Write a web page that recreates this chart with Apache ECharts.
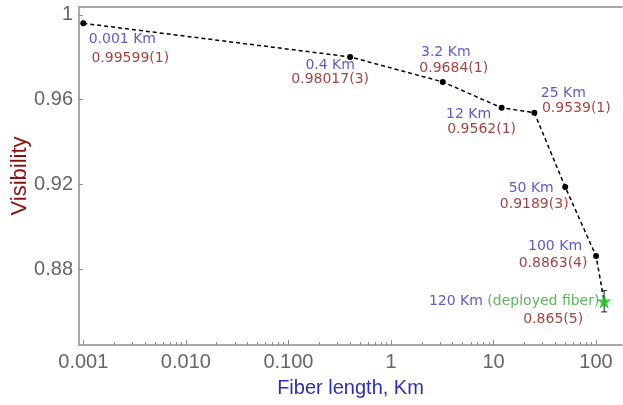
<!DOCTYPE html>
<html>
<head>
<meta charset="utf-8">
<script src="https://cdn.jsdelivr.net/npm/echarts@6/dist/echarts.min.js"></script>
<style>
  html, body { margin: 0; padding: 0; background: #fff; }
  #main { width: 623px; height: 405px; }
</style>
</head>
<body>
<div id="main"></div>
<script>
// fiber length (Km) and measured visibility
const lengthsKm = [0.001, 0.4, 3.2, 12, 25, 50, 100, 120]
const visibility = [0.99599, 0.98017, 0.9684, 0.9562, 0.9539, 0.9189, 0.8863, 0.865]
const uncertainty = [1, 3, 1, 1, 1, 3, 4, 5] // last digit uncertainty, as printed
const deployedIndex = 7 // 120 Km is the deployed fiber
const deployedError = 0.005

// axis ticks
const xTickValues = [0.001, 0.01, 0.1, 1, 10, 100]
const xTickLabels = ['0.001', '0.010', '0.100', '1', '10', '100']
const yTickValues = [0.88, 0.92, 0.96, 1]

// label offsets (px from the point) for the length and value texts
const lengthLabelOffsets = [[39, 16], [-20, 8], [3, -30], [-33, 7], [29, -19], [-34, 1], [-41, -10], [-90, 0]]
const valueLabelOffsets = [[47, 35], [-20, 22], [11, -14], [-20, 22], [42, -4], [-31, 17], [-43, 7], [-51, 18]]

const xMin = -3.042
const xMax = 2.253
const log = Math.log10

// minor ticks 2..9 inside every decade
const minorTicks = []
for (let d = -3; d <= 2; d++) {
    for (let k = 2; k <= 9; k++) {
        const v = log(k) + d
        if (v > xMin && v < xMax) minorTicks.push(v)
    }
}

const points = lengthsKm.map((x, i) => [log(x), visibility[i]])

const chart = echarts.init(document.getElementById('main'))
const axisColor = '#8c8c8c'
const labelFont = 'DejaVu Sans'
const blue = '#3232bc'
const darkRed = '#8a1010'
const option = {
    animation: false,
    grid: { left: 79, right: 1, top: 7, bottom: 60, outerBoundsMode: 'none', containLabel: false },
    xAxis: [
        {
            type: 'value',
            min: xMin,
            max: xMax,
            name: 'Fiber length, Km',
            nameLocation: 'middle',
            nameGap: 33,
            nameMoveOverlap: false,
            nameTextStyle: { color: '#2e2eb4', fontSize: 20, fontFamily: 'Liberation Sans' },
            axisLine: { show: true, onZero: false, lineStyle: { color: axisColor, width: 1.5 } },
            axisTick: { show: true, inside: true, length: 5, lineStyle: { color: axisColor }, customValues: xTickValues.map(log) },
            axisLabel: {
                customValues: xTickValues.map(log),
                color: '#666',
                fontSize: 20,
                fontFamily: 'Liberation Sans',
                margin: 7,
                formatter: function (v) {
                    const i = xTickValues.findIndex(t => Math.abs(log(t) - v) < 1e-6)
                    return i >= 0 ? xTickLabels[i] : ''
                },
            },
            splitLine: { show: false },
        },
        {
            type: 'value',
            min: xMin,
            max: xMax,
            position: 'bottom',
            axisLine: { show: false, onZero: false },
            axisTick: { show: true, inside: true, length: 3, lineStyle: { color: axisColor }, customValues: minorTicks },
            axisLabel: { show: false },
            splitLine: { show: false },
        },
        {
            type: 'value',
            min: xMin,
            max: xMax,
            position: 'top',
            axisLine: { show: true, onZero: false, lineStyle: { color: axisColor, width: 1.5 } },
            axisTick: { show: false },
            axisLabel: { show: false },
            splitLine: { show: false },
        },
    ],
    yAxis: {
        type: 'value',
        min: 0.8444,
        max: 1.0037,
        name: 'Visibility',
        nameLocation: 'middle',
        nameGap: 48,
        nameMoveOverlap: false,
        nameTextStyle: { color: '#8b0f0f', fontSize: 22, fontFamily: 'Liberation Sans' },
        axisLine: { show: true, onZero: false, lineStyle: { color: axisColor, width: 1.5 } },
        axisTick: { show: true, inside: true, length: 4, lineStyle: { color: axisColor }, customValues: yTickValues },
        axisLabel: {
            customValues: yTickValues,
            color: '#666',
            fontSize: 20,
            fontFamily: 'Liberation Sans',
            margin: 6,
            formatter: v => (v === 1 ? '1' : v.toFixed(2)),
        },
        splitLine: { show: false },
    },
    series: [
        {
            type: 'line',
            data: points.map((p, i) => ({
                value: p,
                symbolSize: i === deployedIndex ? 0 : 6,
            })),
            symbol: 'circle',
            itemStyle: { color: '#000' },
            lineStyle: { color: '#000', width: 1.5, type: [4, 3] },
            z: 3,
        },
        {
            type: 'custom',
            data: [[log(lengthsKm[deployedIndex]), visibility[deployedIndex], deployedError]],
            renderItem: function (params, api) {
                const x = api.value(0)
                const y = api.value(1)
                const e = api.value(2)
                const top = api.coord([x, y + e])
                const bot = api.coord([x, y - e])
                const st = { stroke: '#222', lineWidth: 1 }
                return {
                    type: 'group',
                    children: [
                        { type: 'line', shape: { x1: top[0], y1: top[1], x2: bot[0], y2: bot[1] }, style: st },
                        { type: 'line', shape: { x1: top[0] - 3, y1: top[1], x2: top[0] + 3, y2: top[1] }, style: st },
                        { type: 'line', shape: { x1: bot[0] - 3, y1: bot[1], x2: bot[0] + 3, y2: bot[1] }, style: st },
                    ],
                }
            },
            z: 4,
        },
        {
            type: 'scatter',
            data: [points[deployedIndex]],
            symbol: 'path://M0,-10 L2.35,-3.24 9.51,-3.09 3.8,1.24 5.88,8.09 0,4 -5.88,8.09 -3.8,1.24 -9.51,-3.09 -2.35,-3.24Z',
            symbolSize: 15,
            itemStyle: { color: '#10c010' },
            z: 5,
        },
        {
            // length labels
            type: 'scatter',
            silent: true,
            symbolSize: 0,
            data: points.map((p, i) => ({
                value: p,
                label: { offset: lengthLabelOffsets[i] },
            })),
            label: {
                show: true,
                position: 'inside',
                fontFamily: labelFont,
                fontSize: 14,
                color: blue,
                formatter: function (params) {
                    const t = lengthsKm[params.dataIndex] + ' Km'
                    return params.dataIndex === deployedIndex ? '{b|' + t + '} {g|(deployed fiber)}' : t
                },
                rich: {
                    b: { color: blue, fontFamily: labelFont, fontSize: 14 },
                    g: { color: '#35a035', fontFamily: labelFont, fontSize: 14 },
                },
            },
            z: 6,
        },
        {
            // visibility labels
            type: 'scatter',
            silent: true,
            symbolSize: 0,
            data: points.map((p, i) => ({
                value: p,
                label: { offset: valueLabelOffsets[i] },
            })),
            label: {
                show: true,
                position: 'inside',
                fontFamily: labelFont,
                fontSize: 14,
                color: darkRed,
                formatter: params => visibility[params.dataIndex] + '(' + uncertainty[params.dataIndex] + ')',
            },
            z: 6,
        },
    ],
}
chart.setOption(option)
</script>
</body>
</html>
